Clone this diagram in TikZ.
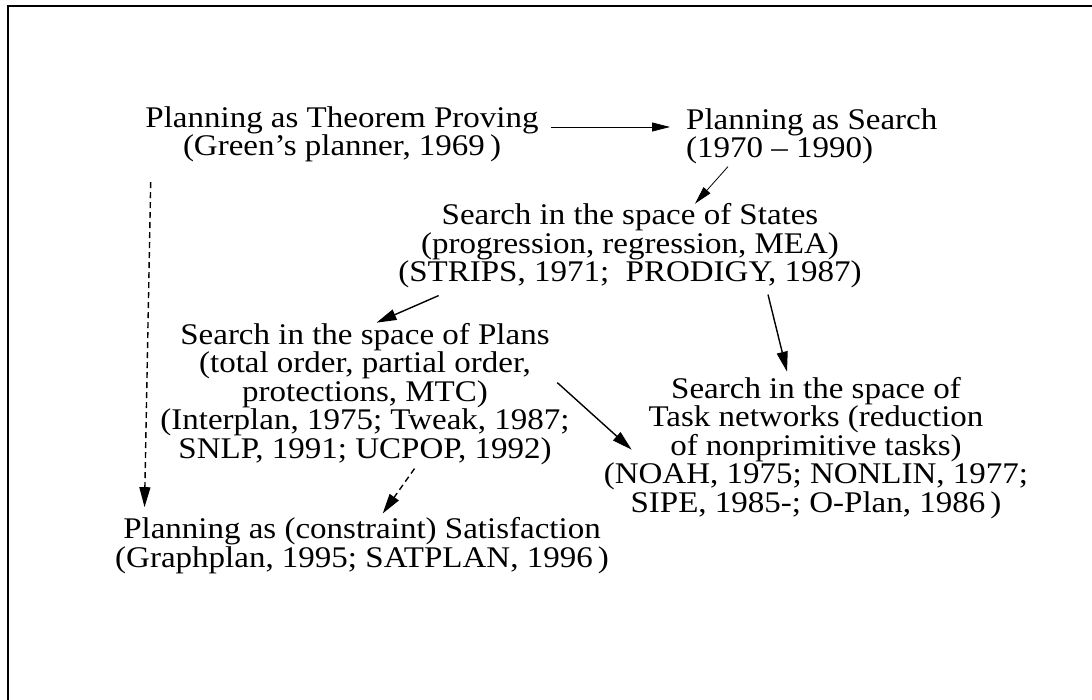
\documentclass[tikz,border=0pt]{standalone}
\usepackage{fontspec}
\setmainfont[FakeStretch=1.1]{Liberation Serif}
\usetikzlibrary{arrows.meta}

\begin{document}
\begin{tikzpicture}[x=1pt,y=-1pt,
  stage/.style={font=\fontsize{30pt}{28.5pt}\selectfont, align=center, inner sep=0pt, anchor=base},
  thinarrow/.style={line width=0.8pt, -{Triangle[length=18pt,width=9pt]}},
  boldarrow/.style={line width=1.4pt, -{Triangle[length=20pt,width=11pt]}},
  dasharrow/.style={boldarrow, line width=1.4pt, dash pattern=on 6pt off 4pt}]
\useasboundingbox (0,0) rectangle (1092,700);
% Frame (top and left edges only)
\draw[line width=1.6pt] (8,700) -- (8,6) -- (1092,6);
% Planning paradigms (base = baseline of the last line)
\node[stage] (theorem) at (342,156) {Planning as Theorem Proving\\(Green’s planner, 1969\,)};
\node[stage, align=left, anchor=base west] (search) at (686,158) {Planning as Search\\(1970 -- 1990)};
\node[stage] (states) at (630,282) {Search in the space of States\\(progression, regression, MEA)\\(STRIPS, 1971;~ PRODIGY, 1987)};
\node[stage] (plans) at (365,458) {Search in the space of Plans\\(total order, partial order,\\protections, MTC)\\(Interplan, 1975; Tweak, 1987;\\SNLP, 1991; UCPOP, 1992)};
\node[stage] (tasks) at (816,512) {Search in the space of\\Task networks (reduction\\of nonprimitive tasks)\\(NOAH, 1975; NONLIN, 1977;\\SIPE, 1985-; O-Plan, 1986\,)};
\node[stage] (csp) at (362,567) {Planning as (constraint) Satisfaction\\(Graphplan, 1995; SATPLAN, 1996\,)};
% Arrows
\draw[thinarrow] ([xshift=12pt,yshift=29pt]theorem.base east) -- ([xshift=-16pt,yshift=31pt]search.base west);
\draw[thinarrow] ([xshift=42pt,yshift=-2pt]search.south west) -- ([xshift=65pt]states.north);
\draw[boldarrow] ([xshift=40.5pt,yshift=-7pt]states.south west) -- ([xshift=11.5pt]plans.north);
\draw[boldarrow] ([xshift=138pt,yshift=-6pt]states.south) -- ([xshift=-29pt,yshift=5pt]tasks.north);
\draw[boldarrow] ([xshift=-12.5pt,yshift=11pt]plans.east) -- ([xshift=28pt,yshift=-2pt]tasks.west);
% Dashed arrows to Satisfaction
\draw[dasharrow] ([xshift=5.5pt,yshift=-19.5pt]theorem.south west) -- ([xshift=29.5pt,yshift=10pt]csp.north west);
\draw[dasharrow] ([xshift=49.5pt,yshift=-4pt]plans.south) -- ([xshift=20.7pt,yshift=3.7pt]csp.north);
\end{tikzpicture}
\end{document}
